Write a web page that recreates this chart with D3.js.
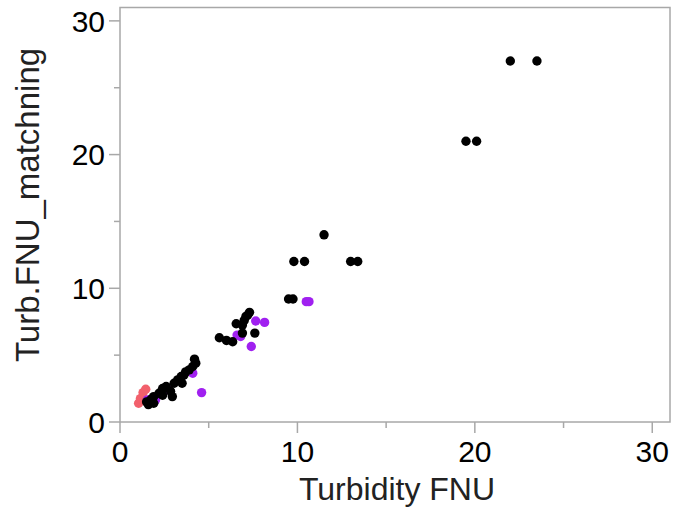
<!DOCTYPE html>
<html><head><meta charset="utf-8">
<script src="https://cdn.jsdelivr.net/npm/d3@7"></script>
<style>body{margin:0;background:#fff}svg{display:block}</style>
</head><body>
<svg id="c" width="673" height="510"></svg>
<script>
const xTicks = [0, 10, 20, 30];
const yTicks = [0, 10, 20, 30];
const minorTicks = [5, 15, 25];
const xTitle = "Turbidity FNU";
const yTitle = "Turb.FNU_matchning";
// groups: black, purple, red
const blackPts = [[23.5,27],[22,27],[19.5,21],[20.1,21],[11.5,14],[9.8,12],[10.4,12],[13.0,12],[13.4,12],[9.5,9.2],[9.75,9.2],
 [7.3,8.2],[7.1,7.9],[7.0,7.6],[6.55,7.35],[6.9,7.25],[7.2,8.0],[7.6,6.65],[6.9,6.65],[5.6,6.3],[6.0,6.1],[6.35,6.0],
 [4.2,4.7],[4.27,4.4],[4.1,4.15],[3.9,3.9],[3.7,3.75],[3.6,3.5],[3.45,3.4],[3.25,3.15],[3.05,2.9],[3.5,2.9],[2.85,2.3],
 [2.95,1.9],[2.6,2.65],[2.4,2.5],[2.2,2.15],[2.4,2.0],[1.9,1.9],[1.6,1.3],[1.9,1.4],[1.5,1.5],[1.75,1.7]];
const purplePts = [[10.5,9.0],[10.65,9.0],[7.65,7.55],[8.15,7.45],[6.8,6.4],[6.6,6.5],[7.4,5.65],[4.1,3.65],[4.6,2.2],[2.75,2.4],[2.0,1.65],[1.55,1.65]];
const redPts = [[1.05,1.4],[1.15,1.75],[1.3,2.2],[1.45,2.45]];

const svg = d3.select("#c");
const L = 120, R = 670, T = 7.5, B = 422;
const x = d3.scaleLinear().domain([0, 31]).range([L, R]);
const y = d3.scaleLinear().domain([0, 31]).range([B, T]);
const gray = "#a8a8a8";
const font = "Liberation Sans, Arial, sans-serif";

svg.append("rect").attr("x", L).attr("y", T).attr("width", R - L).attr("height", B - T)
  .attr("fill", "none").attr("stroke", gray).attr("stroke-width", 1.5);

// x axis
const gx = svg.append("g");
gx.selectAll(".maj").data(xTicks).join("line")
  .attr("x1", d => x(d)).attr("x2", d => x(d)).attr("y1", B).attr("y2", B + 11)
  .attr("stroke", gray).attr("stroke-width", 1.5);
gx.selectAll(".min").data(minorTicks).join("line").attr("class","min")
  .attr("x1", d => x(d)).attr("x2", d => x(d)).attr("y1", B).attr("y2", B + 6)
  .attr("stroke", gray).attr("stroke-width", 1.5);
gx.selectAll("text").data(xTicks).join("text")
  .attr("x", d => x(d)).attr("y", 462).attr("text-anchor", "middle")
  .attr("font-family", font).attr("font-size", 30).attr("fill", "#000")
  .text(d => d);

// y axis
const gy = svg.append("g");
gy.selectAll(".maj").data(yTicks).join("line")
  .attr("y1", d => y(d)).attr("y2", d => y(d)).attr("x1", L).attr("x2", L - 11)
  .attr("stroke", gray).attr("stroke-width", 1.5);
gy.selectAll(".min").data(minorTicks).join("line").attr("class","min")
  .attr("y1", d => y(d)).attr("y2", d => y(d)).attr("x1", L).attr("x2", L - 6)
  .attr("stroke", gray).attr("stroke-width", 1.5);
gy.selectAll("text").data(yTicks).join("text")
  .attr("x", 105).attr("y", d => y(d)).attr("dy", "0.36em").attr("text-anchor", "end")
  .attr("font-family", font).attr("font-size", 30).attr("fill", "#000")
  .text(d => d);

svg.append("text").attr("x", 397).attr("y", 500).attr("text-anchor", "middle")
  .attr("font-family", font).attr("font-size", 32).attr("fill", "#222")
  .text(xTitle);
svg.append("text").attr("transform", `translate(39,205) rotate(-90)`).attr("text-anchor", "middle")
  .attr("font-family", font).attr("font-size", 33).attr("fill", "#222")
  .text(yTitle);

const groups = [[redPts, "#f2606c"], [purplePts, "#a020f0"], [blackPts, "#000"]];
groups.forEach(([pts, col]) => {
  svg.append("g").selectAll("circle").data(pts).join("circle")
    .attr("cx", d => x(d[0])).attr("cy", d => y(d[1])).attr("r", 4.7).attr("fill", col);
});
</script>
</body></html>
